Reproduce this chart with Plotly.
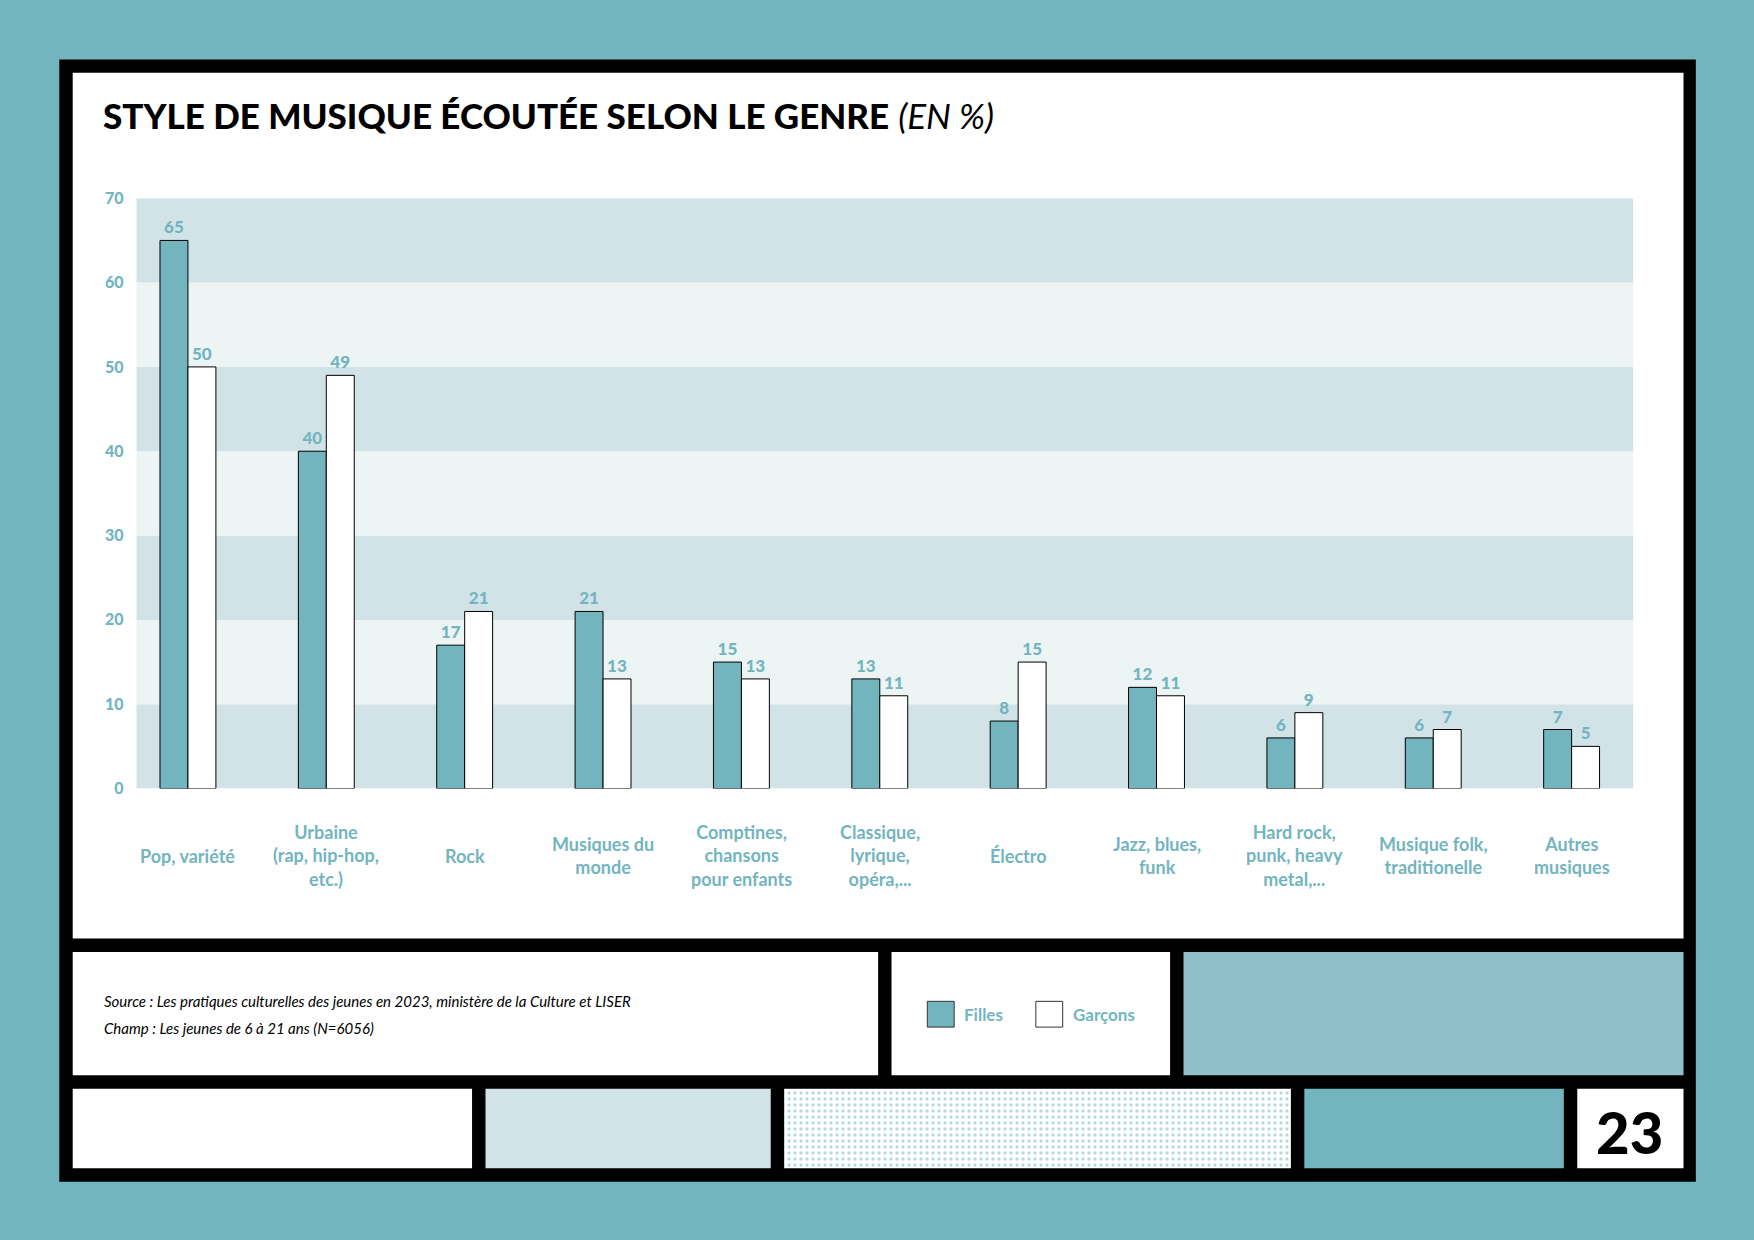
import plotly.graph_objects as go

categories = ["Pop, variété", "Urbaine<br>(rap, hip-hop,<br>etc.)", "Rock", "Musiques du<br>monde",
              "Comptines,<br>chansons<br>pour enfants", "Classique,<br>lyrique,<br>opéra,...", "Électro",
              "Jazz, blues,<br>funk", "Hard rock,<br>punk, heavy<br>metal,...", "Musique folk,<br>traditionelle",
              "Autres<br>musiques"]
filles = [65, 40, 17, 21, 15, 13, 8, 12, 6, 6, 7]
garcons = [50, 49, 21, 13, 13, 11, 15, 11, 9, 7, 5]
yticks = [0, 10, 20, 30, 40, 50, 60, 70]

W, H = 1568, 1109
TEAL = "#72B5BF"
FONT = "Lato"

def fx(p): return p / W
def fy(p): return 1 - ((p - 8.9) / 0.983) / H

x_idx = list(range(len(categories)))
fig = go.Figure()
fig.add_trace(go.Bar(x=x_idx, y=filles, name="Filles", marker=dict(color=TEAL, line=dict(color="black", width=1)),
                     text=filles, textposition="outside", cliponaxis=False,
                     textfont=dict(color=TEAL, size=17, family=FONT, weight=900)))
fig.add_trace(go.Bar(x=x_idx, y=garcons, name="Garçons", marker=dict(color="white", line=dict(color="black", width=1)),
                     text=garcons, textposition="outside", cliponaxis=False,
                     textfont=dict(color=TEAL, size=17, family=FONT, weight=900)))

shapes = []
def rect(x0, y0, x1, y1, color, layer="below"):
    shapes.append(dict(type="rect", xref="paper", yref="paper", x0=fx(x0), x1=fx(x1), y0=fy(y1), y1=fy(y0),
                       fillcolor=color, line=dict(width=0), layer=layer))

dx = [fx(701), fx(1154), fx(1154), fx(701), fx(701)]
dy = [fy(972), fy(972), fy(1043), fy(1043), fy(972)]
fig.add_trace(go.Scatter(x=dx, y=dy, xaxis="x2", yaxis="y2",
                         mode="lines", line=dict(width=0), fill="toself", fillcolor="white",
                         fillpattern=dict(shape=".", fgcolor=TEAL, bgcolor="white", size=6, solidity=0.25),
                         hoverinfo="skip", showlegend=False))

rect(53, 53, 1516, 1055, "black")
rect(65, 65, 1505, 838, "white")
rect(65, 850, 785, 960, "white")
rect(797, 850, 1046, 960, "white")
rect(1058, 850, 1505, 960, "#8FC0CA")
rect(65, 972, 422, 1043, "white")
rect(434, 972, 689, 1043, "#D2E3E7")
rect(1166, 972, 1398, 1043, TEAL)
rect(1410, 972, 1505, 1043, "white")

for i in range(7):
    shapes.append(dict(type="rect", xref="paper", yref="y", x0=fx(122), x1=fx(1460), y0=i * 10, y1=i * 10 + 10,
                       fillcolor="#D2E3E7" if i % 2 == 0 else "#EDF4F4", line=dict(width=0), layer="below"))

rect(829, 894, 853, 917, TEAL, layer="above")
rect(926, 894, 950, 917, "white", layer="above")
for x0 in (829, 926):
    shapes.append(dict(type="rect", xref="paper", yref="paper", x0=fx(x0), x1=fx(x0 + 24), y0=fy(917), y1=fy(894),
                       line=dict(color="#333", width=1), layer="above"))

ann = [
    dict(x=fx(90), y=fy(103), xref="paper", yref="paper", xanchor="left", yanchor="middle", showarrow=False,
         text="<span style='font-weight:900'>STYLE DE MUSIQUE ÉCOUTÉE SELON LE GENRE</span> <i>(EN %)</i>",
         font=dict(family=FONT, size=35, color="black")),
    dict(x=fx(91), y=fy(894), xref="paper", yref="paper", xanchor="left", yanchor="middle", showarrow=False,
         text="<i>Source : Les pratiques culturelles des jeunes en 2023, ministère de la Culture et LISER</i>",
         font=dict(family=FONT, size=15, color="black")),
    dict(x=fx(91), y=fy(918), xref="paper", yref="paper", xanchor="left", yanchor="middle", showarrow=False,
         text="<i>Champ : Les jeunes de 6 à 21 ans (N=6056)</i>",
         font=dict(family=FONT, size=15, color="black")),
    dict(x=fx(860), y=fy(906), xref="paper", yref="paper", xanchor="left", yanchor="middle", showarrow=False,
         text="Filles", font=dict(family=FONT, size=17, color=TEAL, weight="bold")),
    dict(x=fx(957), y=fy(906), xref="paper", yref="paper", xanchor="left", yanchor="middle", showarrow=False,
         text="Garçons", font=dict(family=FONT, size=17, color=TEAL, weight="bold")),
    dict(x=fx(1457), y=fy(1010), xref="paper", yref="paper", xanchor="center", yanchor="middle", showarrow=False,
         text="23", font=dict(family=FONT, size=58, color="black", weight=900)),
]
for i, c in enumerate(categories):
    ann.append(dict(x=i, y=fy(764), xref="x", yref="paper", xanchor="center", yanchor="middle", showarrow=False,
                    text=c, font=dict(family=FONT, size=18, color=TEAL, weight="bold")))

fig.update_layout(
    width=1754, height=1240, margin=dict(l=0, r=0, t=0, b=0),
    paper_bgcolor=TEAL, plot_bgcolor="rgba(0,0,0,0)",
    barmode="group", bargap=0.596, bargroupgap=0, showlegend=False,
    shapes=shapes, annotations=ann,
    xaxis=dict(domain=[fx(122), fx(1460)], range=[-0.372, 10.445], showticklabels=False, showgrid=False,
               zeroline=False, fixedrange=True),
    yaxis=dict(domain=[fy(704), fy(177)], range=[0, 70], tickvals=yticks, showgrid=False, zeroline=False,
               ticks="", ticklabelstandoff=12,
               tickfont=dict(family=FONT, size=16, color=TEAL, weight=900)),
    xaxis2=dict(domain=[0, 1], range=[0, 1], visible=False, fixedrange=True),
    yaxis2=dict(domain=[0, 1], range=[0, 1], visible=False, fixedrange=True, anchor="x2"),
)
fig.write_html("out.html", config={"displayModeBar": False},
               post_script="document.body.style.margin='0';document.body.style.overflow='hidden';")
